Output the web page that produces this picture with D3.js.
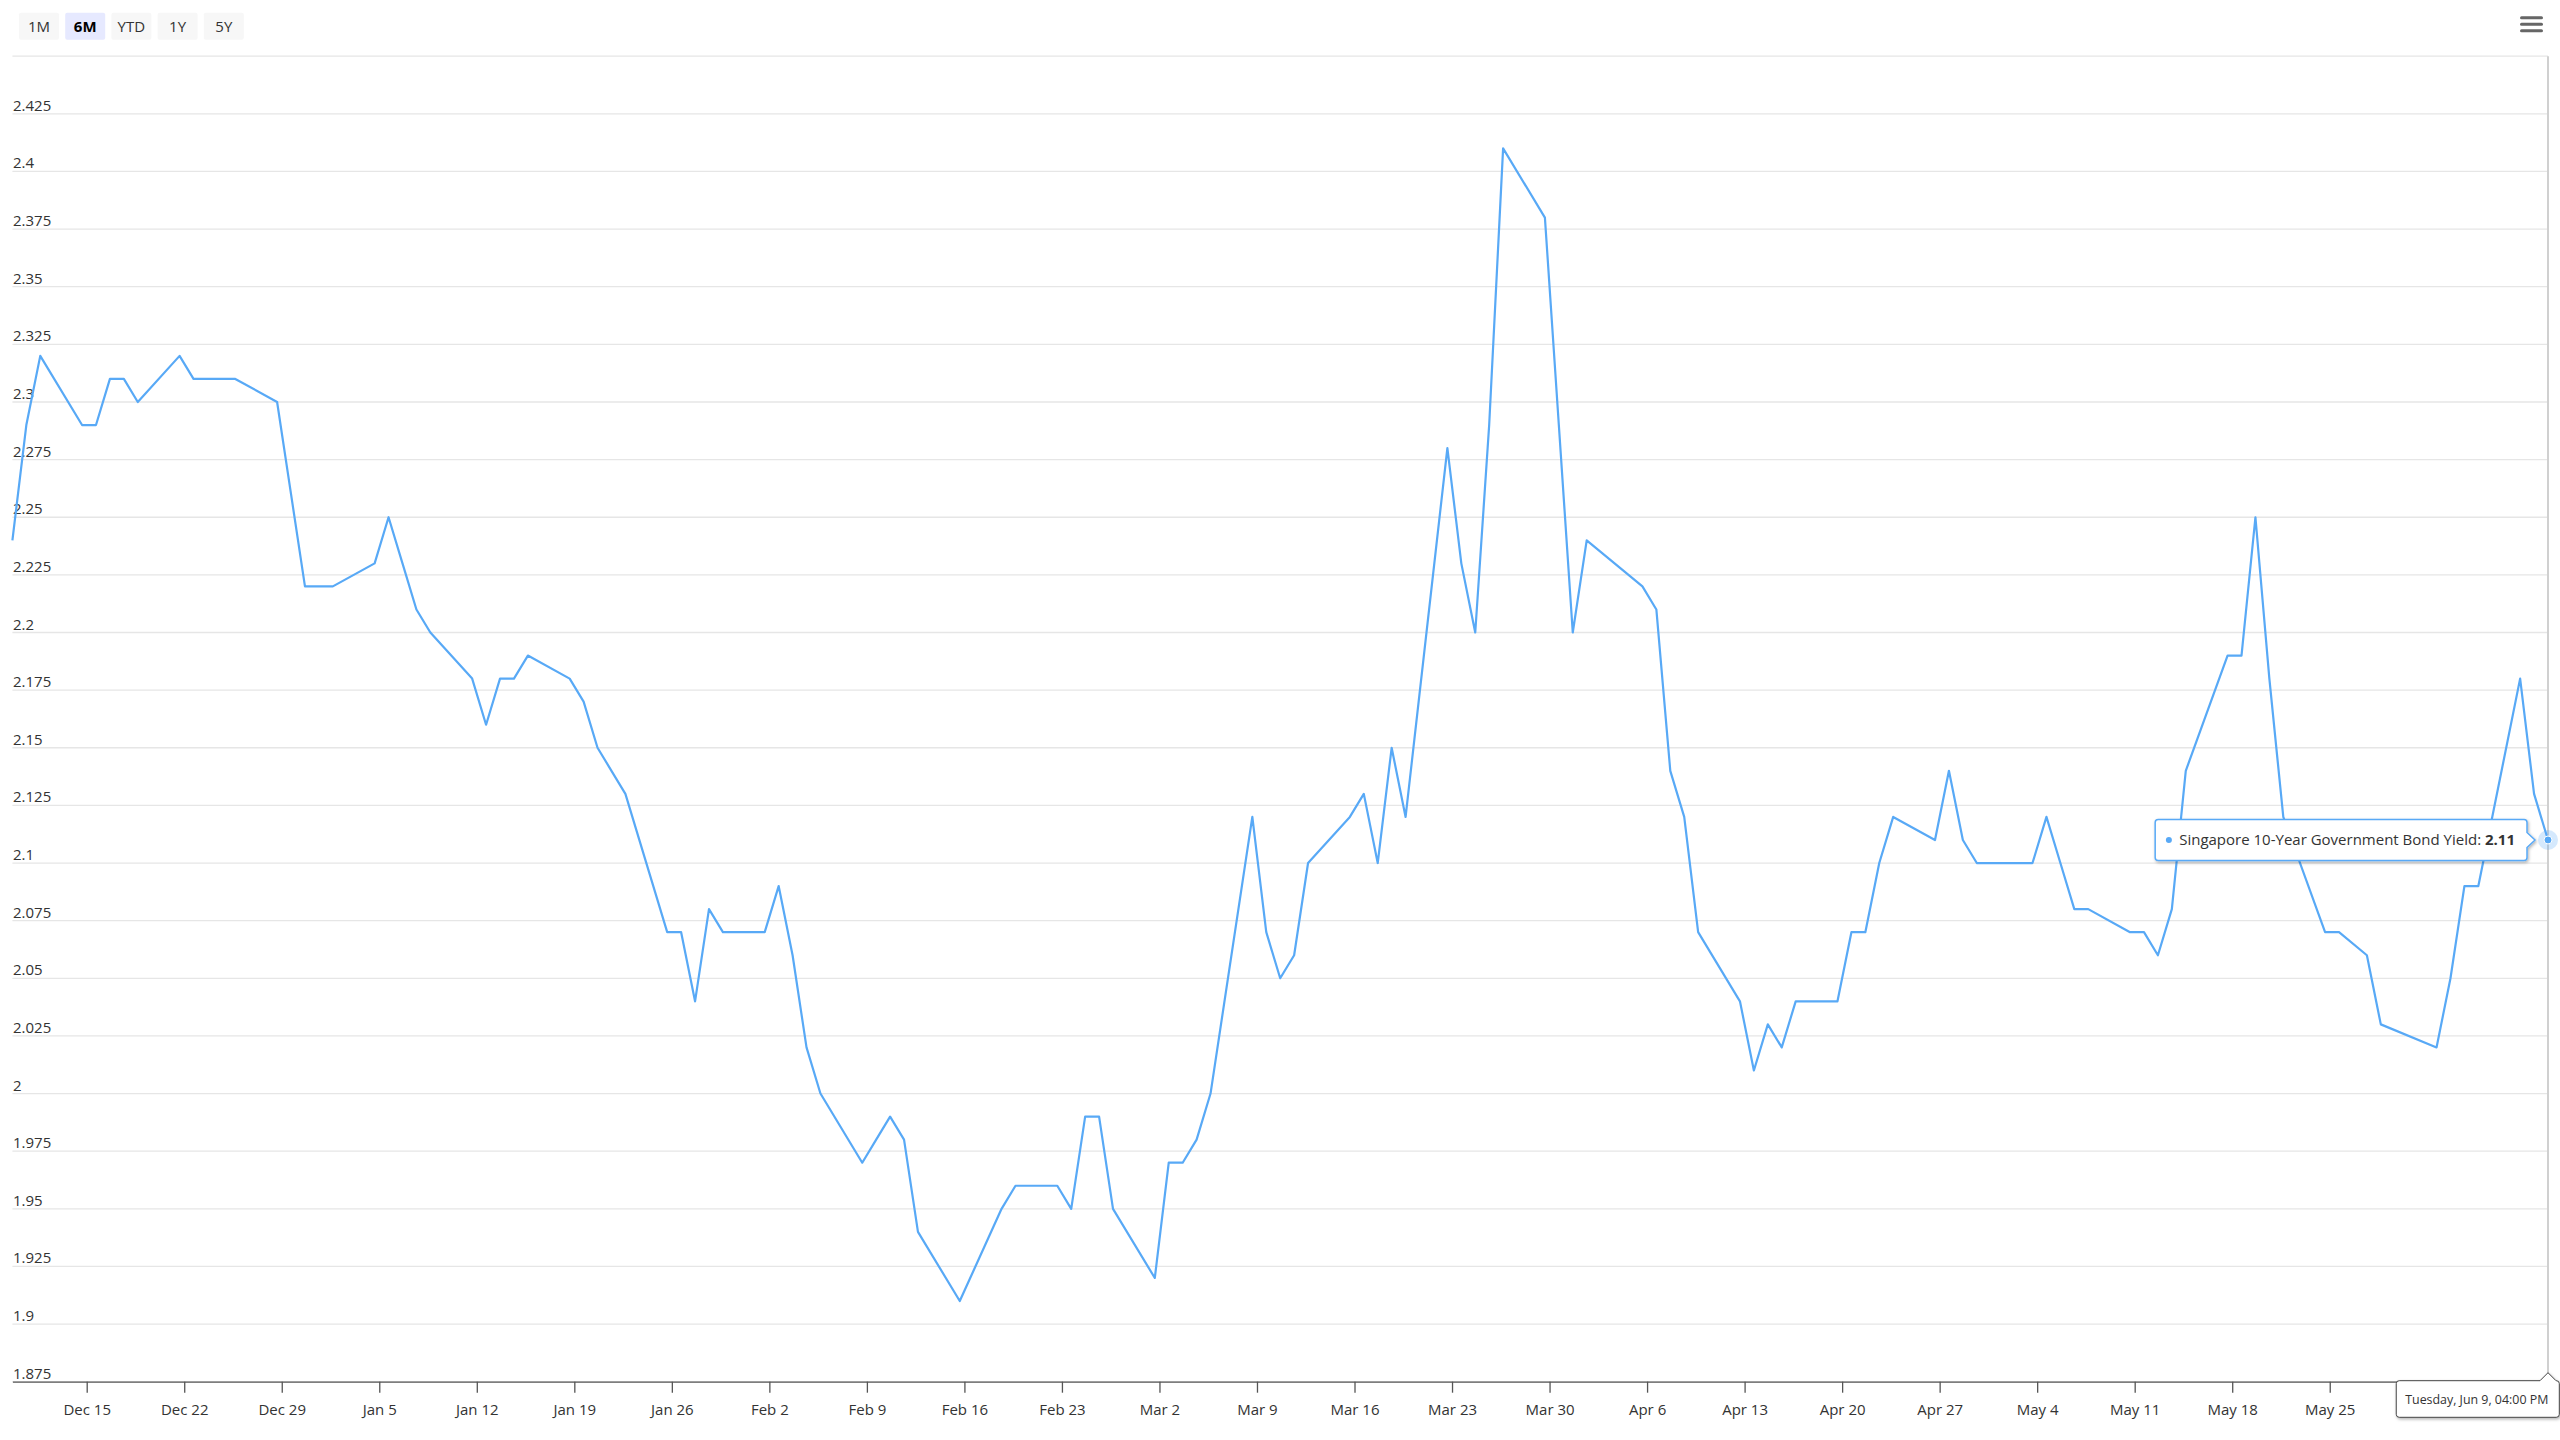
<!DOCTYPE html>
<html>

<head>
  <meta charset="utf-8">
  <style>
    body {
      margin: 0;
      background-color: #fff;
    }

    #chart text {
      font-family: "Open Sans", "Noto Sans", sans-serif;
      fill: #333;
    }

    #chart .grid line {
      stroke: #e6e6e6;
      stroke-width: 1.3px;
    }

    #chart .x-axis path,
    #chart .x-axis line {
      stroke: #555;
      stroke-width: 1.3px;
    }

    #chart .series {
      fill: none;
      stroke: #58a9f6;
      stroke-width: 2.2px;
      stroke-linejoin: round;
    }
  </style>
</head>

<body>
  <svg id="chart" width="2560" height="1440"></svg>

  <script src="https://d3js.org/d3.v7.min.js"></script>
  <script>
    // closing yield per session (points sit at 16:00 of each date)
    var dates = [
      '2025-12-09', '2025-12-10', '2025-12-11', '2025-12-14', '2025-12-15', '2025-12-16', '2025-12-17', '2025-12-18',
      '2025-12-21', '2025-12-22', '2025-12-23', '2025-12-24', '2025-12-25', '2025-12-28', '2025-12-29', '2025-12-30',
      '2025-12-31', '2026-01-01', '2026-01-04', '2026-01-05', '2026-01-06', '2026-01-07', '2026-01-08', '2026-01-11',
      '2026-01-12', '2026-01-13', '2026-01-14', '2026-01-15', '2026-01-18', '2026-01-19', '2026-01-20', '2026-01-21',
      '2026-01-22', '2026-01-25', '2026-01-26', '2026-01-27', '2026-01-28', '2026-01-29', '2026-02-01', '2026-02-02',
      '2026-02-03', '2026-02-04', '2026-02-05', '2026-02-08', '2026-02-09', '2026-02-10', '2026-02-11', '2026-02-12',
      '2026-02-15', '2026-02-18', '2026-02-19', '2026-02-22', '2026-02-23', '2026-02-24', '2026-02-25', '2026-02-26',
      '2026-03-01', '2026-03-02', '2026-03-03', '2026-03-04', '2026-03-05', '2026-03-08', '2026-03-09', '2026-03-10',
      '2026-03-11', '2026-03-12', '2026-03-15', '2026-03-16', '2026-03-17', '2026-03-18', '2026-03-19', '2026-03-22',
      '2026-03-23', '2026-03-24', '2026-03-25', '2026-03-26', '2026-03-29', '2026-03-30', '2026-03-31', '2026-04-01',
      '2026-04-05', '2026-04-06', '2026-04-07', '2026-04-08', '2026-04-09', '2026-04-12', '2026-04-13', '2026-04-14',
      '2026-04-15', '2026-04-16', '2026-04-19', '2026-04-20', '2026-04-21', '2026-04-22', '2026-04-23', '2026-04-26',
      '2026-04-27', '2026-04-28', '2026-04-29', '2026-04-30', '2026-05-03', '2026-05-04', '2026-05-05', '2026-05-06',
      '2026-05-07', '2026-05-10', '2026-05-11', '2026-05-12', '2026-05-13', '2026-05-14', '2026-05-17', '2026-05-18',
      '2026-05-19', '2026-05-20', '2026-05-21', '2026-05-24', '2026-05-25', '2026-05-27', '2026-05-28', '2026-06-01',
      '2026-06-02', '2026-06-03', '2026-06-04', '2026-06-07', '2026-06-08', '2026-06-09'
    ];

    var yields = [
      2.24, 2.29, 2.32, 2.29, 2.29, 2.31, 2.31, 2.30,
      2.32, 2.31, 2.31, 2.31, 2.31, 2.30, 2.26, 2.22,
      2.22, 2.22, 2.23, 2.25, 2.23, 2.21, 2.20, 2.18,
      2.16, 2.18, 2.18, 2.19, 2.18, 2.17, 2.15, 2.14,
      2.13, 2.07, 2.07, 2.04, 2.08, 2.07, 2.07, 2.09,
      2.06, 2.02, 2.00, 1.97, 1.98, 1.99, 1.98, 1.94,
      1.91, 1.95, 1.96, 1.96, 1.95, 1.99, 1.99, 1.95,
      1.92, 1.97, 1.97, 1.98, 2.00, 2.12, 2.07, 2.05,
      2.06, 2.10, 2.12, 2.13, 2.10, 2.15, 2.12, 2.28,
      2.23, 2.20, 2.29, 2.41, 2.38, 2.29, 2.20, 2.24,
      2.22, 2.21, 2.14, 2.12, 2.07, 2.04, 2.01, 2.03,
      2.02, 2.04, 2.04, 2.07, 2.07, 2.10, 2.12, 2.11,
      2.14, 2.11, 2.10, 2.10, 2.10, 2.12, 2.10, 2.08,
      2.08, 2.07, 2.07, 2.06, 2.08, 2.14, 2.19, 2.19,
      2.25, 2.18, 2.12, 2.07, 2.07, 2.06, 2.03, 2.02,
      2.05, 2.09, 2.09, 2.18, 2.13, 2.11
    ];

    var yTicks = [1.875, 1.9, 1.925, 1.95, 1.975, 2, 2.025, 2.05, 2.075, 2.1, 2.125, 2.15,
      2.175, 2.2, 2.225, 2.25, 2.275, 2.3, 2.325, 2.35, 2.375, 2.4, 2.425, 2.45];

    var ranges = ['1M', '6M', 'YTD', '1Y', '5Y'];
    var selectedRange = '6M';
    var seriesName = 'Singapore 10-Year Government Bond Yield';
    var hoverLabel = 'Tuesday, Jun 9, 04:00 PM';

    var lineColor = '#58a9f6',
      plotLeft = 12.4,
      plotRight = 2548,
      plotTop = 56.2,
      plotBottom = 1381.7;

    var parseDay = d3.utcParse('%Y-%m-%d');
    var data = dates.map(function (s, i) {
      var d = parseDay(s);
      d.setUTCHours(16);
      return { date: d, value: yields[i] };
    });

    var svg = d3.select('#chart');

    var x = d3.scaleUtc()
      .domain(d3.extent(data, d => d.date))
      .range([plotLeft, plotRight]);

    var y = d3.scaleLinear()
      .domain([yTicks[0], yTicks[yTicks.length - 1]])
      .range([plotBottom, plotTop]);

    drawButtons();
    drawMenu();
    drawGrid();
    drawXAxis();
    drawSeries();
    drawHover();

    function drawButtons() {
      var g = svg.append('g').attr('class', 'range-selector');
      var b = g.selectAll('g')
        .data(ranges)
        .join('g')
        .attr('transform', (d, i) => 'translate(' + (19 + i * 46.2) + ',12.7)');

      b.append('rect')
        .attr('width', 40)
        .attr('height', 27)
        .attr('rx', 2)
        .attr('fill', d => d === selectedRange ? '#e6e9ff' : '#f7f7f7');

      b.append('text')
        .attr('x', 20)
        .attr('y', 19.6)
        .attr('text-anchor', 'middle')
        .style('font-size', '15px')
        .style('font-weight', d => d === selectedRange ? 'bold' : 'normal')
        .style('fill', d => d === selectedRange ? '#000' : '#333')
        .text(d => d);
    }

    function drawMenu() {
      svg.append('g')
        .selectAll('line')
        .data([17.7, 24.2, 30.7])
        .join('line')
        .attr('x1', 2521.5)
        .attr('x2', 2541.5)
        .attr('y1', d => d)
        .attr('y2', d => d)
        .attr('stroke', '#666')
        .attr('stroke-width', 3)
        .attr('stroke-linecap', 'round');
    }

    function drawGrid() {
      var g = svg.append('g').attr('class', 'grid');
      g.selectAll('line')
        .data(yTicks)
        .join('line')
        .attr('x1', plotLeft)
        .attr('x2', plotRight)
        .attr('y1', d => y(d))
        .attr('y2', d => y(d));

      // top gridline carries no label
      svg.append('g')
        .attr('class', 'y-labels')
        .selectAll('text')
        .data(yTicks.slice(0, -1))
        .join('text')
        .attr('x', 13)
        .attr('y', d => y(d) - 3)
        .style('font-size', '15px')
        .text(d => String(d));
    }

    function drawXAxis() {
      var axis = d3.axisBottom(x)
        .ticks(d3.utcMonday.every(1))
        .tickFormat(d3.utcFormat('%b %-d'))
        .tickSize(11)
        .tickSizeOuter(0)
        .tickPadding(12);

      var g = svg.append('g')
        .attr('class', 'x-axis')
        .attr('transform', 'translate(0,' + plotBottom + ')')
        .call(axis);

      g.selectAll('text')
        .style('font-size', '15px')
        .style('font-family', '"Open Sans", "Noto Sans", sans-serif')
        .attr('fill', '#333');
    }

    function drawSeries() {
      // crosshair sits behind the line
      var last = data[data.length - 1];
      svg.append('line')
        .attr('x1', x(last.date))
        .attr('x2', x(last.date))
        .attr('y1', plotTop)
        .attr('y2', plotBottom)
        .attr('stroke', '#d0d0d0')
        .attr('stroke-width', 2);

      var line = d3.line()
        .x(d => x(d.date))
        .y(d => y(d.value));

      svg.append('path')
        .datum(data)
        .attr('class', 'series')
        .attr('d', line);

      svg.append('circle')
        .attr('cx', x(last.date))
        .attr('cy', y(last.value))
        .attr('r', 10)
        .attr('fill', lineColor)
        .attr('fill-opacity', 0.25);

      svg.append('circle')
        .attr('cx', x(last.date))
        .attr('cy', y(last.value))
        .attr('r', 4)
        .attr('fill', lineColor)
        .attr('stroke', '#fff')
        .attr('stroke-width', 1);
    }

    function callout(l, t, r, b, rad, arrow) {
      var p = d3.path();
      p.moveTo(l + rad, t);
      if (arrow.side === 'top') {
        p.lineTo(arrow.x - 8, t);
        p.lineTo(arrow.x, arrow.tip);
        p.lineTo(Math.min(arrow.x + 8, r - rad), t);
      }
      p.lineTo(r - rad, t);
      p.quadraticCurveTo(r, t, r, t + rad);
      if (arrow.side === 'right') {
        p.lineTo(r, arrow.y - 7.5);
        p.lineTo(arrow.tip, arrow.y);
        p.lineTo(r, arrow.y + 7.5);
      }
      p.lineTo(r, b - rad);
      p.quadraticCurveTo(r, b, r - rad, b);
      p.lineTo(l + rad, b);
      p.quadraticCurveTo(l, b, l, b - rad);
      p.lineTo(l, t + rad);
      p.quadraticCurveTo(l, t, l + rad, t);
      p.closePath();
      return p.toString();
    }

    function drawHover() {
      var defs = svg.append('defs');
      var f = defs.append('filter')
        .attr('id', 'shadow')
        .attr('x', '-10%').attr('y', '-30%')
        .attr('width', '120%').attr('height', '170%');
      f.append('feDropShadow')
        .attr('dx', 1).attr('dy', 1.5)
        .attr('stdDeviation', 1.6)
        .attr('flood-color', '#000')
        .attr('flood-opacity', 0.3);

      var last = data[data.length - 1];
      var px = x(last.date),
        py = y(last.value);

      // series tooltip, to the left of the point
      var tip = svg.append('g').attr('class', 'tooltip');
      var path = tip.append('path');
      var dot = tip.append('circle').attr('r', 3).attr('fill', lineColor);
      var txt = tip.append('text').style('font-size', '15px');
      txt.append('tspan').text(seriesName + ': ');
      txt.append('tspan').style('font-weight', 'bold').text(String(last.value));

      var w = txt.node().getComputedTextLength();
      var r = px - 21,
        l = r - w - 36,
        t = py - 20.5,
        b = py + 20.5;
      path.attr('d', callout(l, t, r, b, 3, { side: 'right', y: py, tip: px - 13 }))
        .attr('fill', '#fff')
        .attr('stroke', lineColor)
        .attr('stroke-width', 1.5)
        .attr('filter', 'url(#shadow)');
      dot.attr('cx', l + 13.7).attr('cy', py);
      txt.attr('x', l + 24).attr('y', py + 5);

      // crosshair label on the x axis
      var lab = svg.append('g').attr('class', 'x-label');
      var lpath = lab.append('path');
      var ltxt = lab.append('text')
        .style('font-size', '12.4px')
        .text(hoverLabel);
      var lw = ltxt.node().getComputedTextLength();
      var lr = 2559.3,
        ll = lr - lw - 20,
        lt = plotBottom - 1,
        lb = plotBottom + 35.6;
      lpath.attr('d', callout(ll, lt, lr, lb, 3, { side: 'top', x: px, tip: plotBottom - 9 }))
        .attr('fill', '#fff')
        .attr('stroke', '#444')
        .attr('stroke-width', 1)
        .attr('filter', 'url(#shadow)');
      ltxt.attr('x', ll + 9).attr('y', plotBottom + 22.5);

      // axis labels hidden behind the crosshair label are dropped
      svg.selectAll('.x-axis .tick')
        .filter(d => x(d) > ll - 25)
        .select('text')
        .remove();
    }
  </script>
</body>

</html>
